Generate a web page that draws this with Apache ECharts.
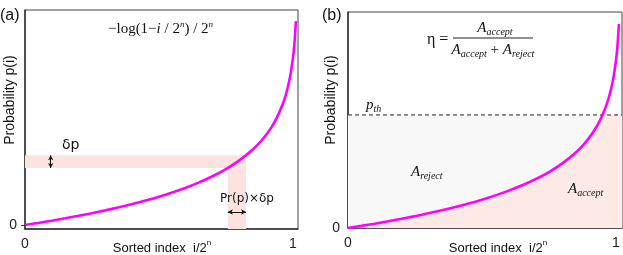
<!DOCTYPE html>
<html><head><meta charset="utf-8">
<script src="https://cdn.jsdelivr.net/npm/echarts@6/dist/echarts.min.js"></script>
<style>html,body{margin:0;padding:0;background:#fff}#c{width:623px;height:255px}</style>
</head><body><div id="c"></div>
<script>
// ---- data ----
const sortedIndex = [0,0.05,0.1,0.15,0.2,0.25,0.3,0.35,0.4,0.45,0.5,0.55,0.6,0.65,0.7,0.75,0.8,0.85,0.88,0.9,0.92,0.94,0.96,0.97,0.98,0.99,1.0,1.005,1.011];
const probability = [0,0.050,0.103,0.159,0.219,0.282,0.349,0.421,0.499,0.583,0.675,0.776,0.889,1.016,1.162,1.332,1.538,1.797,1.992,2.148,2.332,2.558,2.850,3.035,3.264,3.561,3.985,4.291,4.854];
const bandX = [0.757, 0.825];      // Pr(p) x δp strip
const bandY = [1.36, 1.66];        // δp strip
const deltaArrowX = [0.096];
const prArrowY = [0.31];
const pTh = 2.69;                  // threshold
const crossX = 0.949;              // where curve meets p_th
const xTicks = [0, 1];
const yTicks = [0];

const curve = sortedIndex.map((x, i) => [x, probability[i]]);
const L = {min: 0, max: 1.0187, ymin: -0.095, ymax: 5.12};
const R = {min: 0, max: 1.0224, ymin: 0, ymax: 5.14};
const acceptArea = curve.filter(p => p[0] < crossX).concat([[crossX, pTh], [R.max, pTh]]);
const rejectArea = [[0, pTh], [crossX, pTh]];

const axisCol = '#333';
const sans = 'Liberation Sans';
const serif = 'Liberation Serif';
const MAG = '#ff00ff';

function xAx(gi, m) {
  return {type:'value', gridIndex:gi, min:m.min, max:m.max,
    axisLine:{show:true, onZero:false, lineStyle:{color:axisCol, width:1.5}},
    axisTick:{show:false}, splitLine:{show:false},
    axisLabel:{customValues:xTicks, fontFamily:sans, fontSize:14, color:'#222', margin:8}};
}
function yAx(gi, m, tick, margin) {
  return {type:'value', gridIndex:gi, min:m.ymin, max:m.ymax,
    axisLine:{show:true, onZero:false, lineStyle:{color:axisCol, width:1.5}},
    axisTick:{show:tick, customValues:yTicks, length:4, lineStyle:{color:axisCol}}, splitLine:{show:false},
    axisLabel:{customValues:yTicks, fontFamily:sans, fontSize:14, color:'#222', margin:margin}};
}

const rich = {
  i:{fontFamily:serif, fontStyle:'italic', fontSize:15},
  s:{fontFamily:serif, fontStyle:'italic', fontSize:9, verticalAlign:'top', lineHeight:9},
  A:{fontFamily:serif, fontStyle:'italic', fontSize:15, lineHeight:18},
  sub:{fontFamily:serif, fontStyle:'italic', fontSize:10, verticalAlign:'bottom', lineHeight:10},
  ssup:{fontFamily:sans, fontSize:8, verticalAlign:'top', lineHeight:8}
};
function txt(x, y, text, font, align, extra) {
  return Object.assign({type:'text', x:x, y:y, z:100, silent:true,
    style:{text:text, font:font, fill:'#111', align:align||'left', verticalAlign:'middle',
      textAlign:align||'left', textVerticalAlign:'middle', rich:rich, lineHeight:18}}, extra||{});
}

const option = {
  animation:false,
  grid:[
    {left:25, top:10, width:273, height:219, show:true, borderColor:'#444', borderWidth:1},
    {left:348, top:12, width:274, height:216, show:true, borderColor:'#444', borderWidth:1}
  ],
  xAxis:[xAx(0, L), xAx(1, R)],
  yAxis:[yAx(0, L, true, 8), yAx(1, R, false, 8),
    {type:'value', gridIndex:0, position:'right', min:L.ymin, max:L.ymax, axisLine:{show:false},
     axisTick:{show:true, inside:true, customValues:yTicks, length:4, lineStyle:{color:axisCol}},
     axisLabel:{show:false}, splitLine:{show:false}}],
  series:[
    {type:'line', xAxisIndex:0, yAxisIndex:0, data:curve, smooth:0.3, showSymbol:false,
     lineStyle:{color:MAG, width:2.6}, z:5,
     markArea:{silent:true, itemStyle:{color:'#fde3e0', opacity:1},
       data:[[{coord:[0, bandY[0]]},{coord:[bandX[1], bandY[1]]}],
             [{coord:[bandX[0], L.ymin]},{coord:[bandX[1], bandY[0]]}]]},
     markLine:{silent:true, symbol:['arrow','arrow'], symbolSize:[4,5], precision:4,
       lineStyle:{color:'#111', width:1, type:'solid'}, itemStyle:{color:'#111'}, label:{show:false},
       data:[[{coord:[deltaArrowX[0], bandY[0]]},{coord:[deltaArrowX[0], bandY[1]]}],
             [{coord:[bandX[0], prArrowY[0]]},{coord:[bandX[1], prArrowY[0]]}]]}},
    {type:'line', xAxisIndex:1, yAxisIndex:1, data:rejectArea, showSymbol:false,
     lineStyle:{width:0}, areaStyle:{color:'#f8f8f9', opacity:1}, z:1},
    {type:'line', xAxisIndex:1, yAxisIndex:1, data:acceptArea, smooth:0.3, showSymbol:false,
     lineStyle:{width:0}, areaStyle:{color:'#fde9e6', opacity:1}, z:2},
    {type:'line', xAxisIndex:1, yAxisIndex:1, data:[[0,pTh],[R.max,pTh]], showSymbol:false,
     lineStyle:{color:'#222', width:1, type:[4,3]}, z:3},
    {type:'line', xAxisIndex:1, yAxisIndex:1, data:curve, smooth:0.3, showSymbol:false,
     lineStyle:{color:MAG, width:2.6}, z:5}
  ],
  graphic:[
    txt(0, 16, '(a)', '16px ' + sans),
    txt(322, 16, '(b)', '16px ' + sans),
    txt(10, 100, 'Probability p(i)', '14px ' + sans, 'center', {rotation:Math.PI/2}),
    txt(331, 100, 'Probability p(i)', '14px ' + sans, 'center', {rotation:Math.PI/2}),
    txt(162, 248, 'Sorted index  i/2{ssup|n}', '13px ' + sans, 'center'),
    txt(498, 248, 'Sorted index  i/2{ssup|n}', '13px ' + sans, 'center'),
    txt(108, 29, '\u2212log(1\u2212{i|i} / 2{s|n}) / 2{s|n}', '15px ' + serif),
    txt(62, 145, '\u03b4p', '14px DejaVu Sans'),
    txt(220, 199, 'Pr(p)\u00d7\u03b4p', '12px DejaVu Sans'),
    txt(427, 40, '\u03b7 =', '16px ' + serif),
    txt(495, 28, '{A|A}{sub|accept}', '15px ' + serif, 'center'),
    txt(493, 50, '{A|A}{sub|accept} + {A|A}{sub|reject}', '15px ' + serif, 'center'),
    {type:'line', z:100, silent:true, shape:{x1:453, y1:38, x2:533, y2:38}, style:{stroke:'#222', lineWidth:1}},
    txt(366, 105, '{A|p}{sub|th}', '15px ' + serif),
    txt(411, 172, '{A|A}{sub|reject}', '15px ' + serif),
    txt(568, 189, '{A|A}{sub|accept}', '15px ' + serif)
  ]
};
echarts.init(document.getElementById('c'), null, {renderer:'canvas'}).setOption(option);
</script></body></html>
